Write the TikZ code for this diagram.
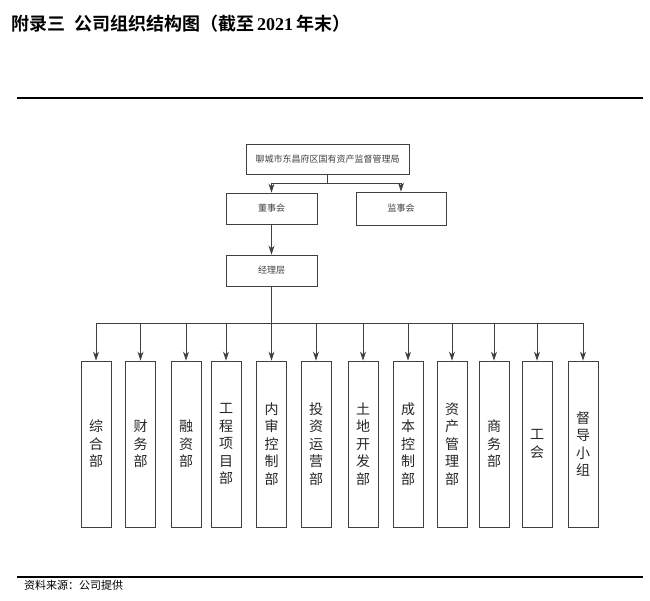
\documentclass[tikz,border=0pt]{standalone}
\usepackage{fontspec}
\setmainfont{Liberation Serif}
\newfontfamily\cjk{Noto Sans CJK SC}
\newfontfamily\cjkb{Noto Sans CJK SC Bold}
\usetikzlibrary{arrows.meta}
\begin{document}
\begin{tikzpicture}[x=1pt,y=-1pt,
  box/.style={draw=black!75,line width=0.9pt,inner sep=0pt,font=\cjk\fontsize{9}{10}\selectfont,text=black!75},
  vbox/.style={draw=black!75,line width=0.9pt,inner sep=0pt,minimum width=30pt,minimum height=166pt,font=\cjk\fontsize{14}{17.5}\selectfont,align=center,text=black!85},
  con/.style={draw=black!75,line width=0.8pt},
  arr/.style={con,-{Stealth[length=9pt,width=6pt]}}]
\useasboundingbox (0,0) rectangle (650,601);
\node[anchor=west,font=\cjkb\fontsize{18}{20}\selectfont,inner sep=0pt] (title) at (11,24) {附录三\hspace{0.5em}公司组织结构图（截至\,{\rmfamily\bfseries 2021}\,年末）};
\draw[line width=1.6pt] (17,98) -- (643,98);
\draw[line width=1.6pt] (17,577) -- (643,577);
\node[anchor=west,font=\cjk\fontsize{11}{12}\selectfont,inner sep=0pt] (src) at (24,585) {资料来源：公司提供};

\node[box,minimum width=163pt,minimum height=30pt] (top) at (327.5,159) {聊城市东昌府区国有资产监督管理局};
\node[box,minimum width=91pt,minimum height=31pt] (dsh) at (271.5,208.5) {董事会};
\node[box,minimum width=90pt,minimum height=33pt] (jsh) at (401,208.5) {监事会};
\node[box,minimum width=91pt,minimum height=31pt] (jlc) at (271.5,270.5) {经理层};
\coordinate (b1) at (327.5,183);
\draw[con] (top.south) -- (b1);
\draw[arr] (b1) -| (dsh.north);
\draw[arr] (b1) -| (jsh.north);
\draw[arr] (dsh.south) -- (jlc.north);
\coordinate (bus) at (271.5,323);
\draw[con] (jlc.south) -- (bus);
\foreach \n/\x/\t in {d1/96/综\\合\\部, d2/140.5/财\\务\\部, d3/186/融\\资\\部, d4/226/工\\程\\项\\目\\部, d5/271.5/内\\审\\控\\制\\部, d6/316/投\\资\\运\\营\\部, d7/363/土\\地\\开\\发\\部, d8/408/成\\本\\控\\制\\部, d9/452/资\\产\\管\\理\\部, d10/494/商\\务\\部, d11/537/工\\会, d12/583/督\\导\\小\\组}{
  \node[vbox] (\n) at (\x,444) {\t};
  \draw[arr] (bus -| \n.north) -- (\n.north);
}
\draw[con] (d1.north |- bus) -- (d12.north |- bus);
\end{tikzpicture}
\end{document}
